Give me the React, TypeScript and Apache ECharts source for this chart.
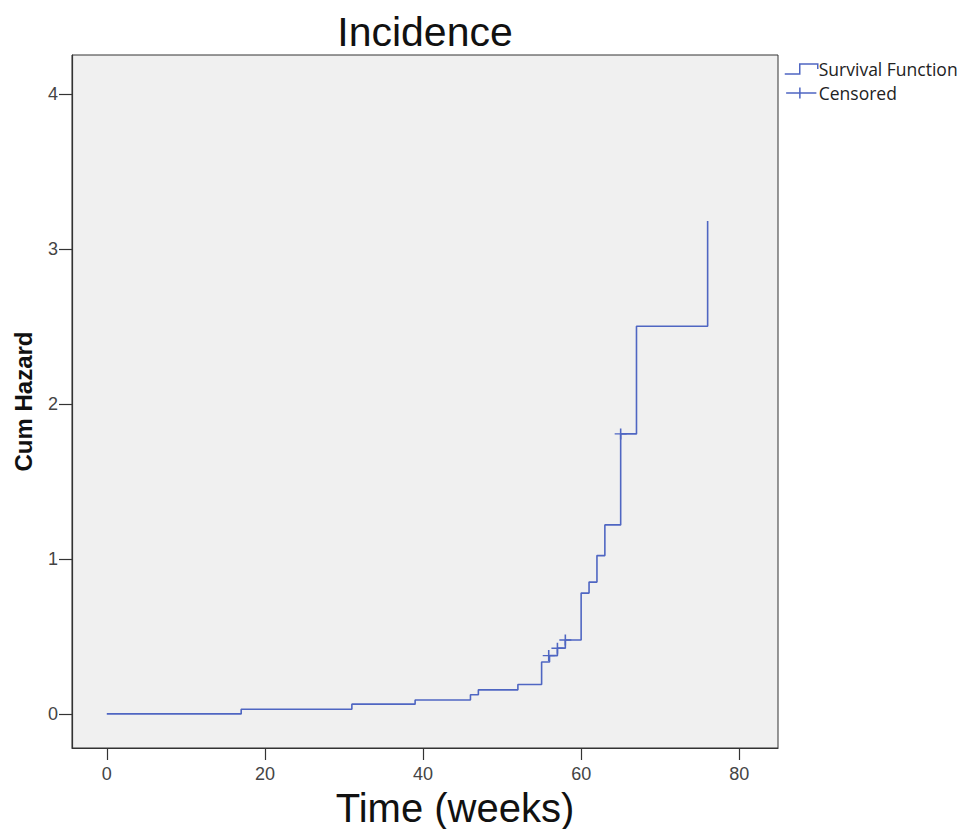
import React, { useEffect, useRef } from "react";
import * as echarts from "echarts";

const times = [0, 17, 31, 39, 46, 47, 52, 55, 56, 57, 58, 60, 61, 62, 63, 65, 67, 76];
const cumHazard = [0, 0.03, 0.063, 0.09, 0.123, 0.155, 0.19, 0.335, 0.376, 0.424, 0.477, 0.779, 0.85, 1.021, 1.219, 1.806, 2.5, 3.18];
const censoredTimes = [55.9, 57, 58, 65];
const censoredHazard = [0.376, 0.424, 0.477, 1.806];
const xTicks = [0, 20, 40, 60, 80];
const yTicks = [0, 1, 2, 3, 4];

const BLUE = "#4F66C2";
const FONT = "Liberation Sans, Arial, sans-serif";

export default function App() {
  const ref = useRef<HTMLDivElement>(null);
  useEffect(() => {
    if (!ref.current) return;
    const chart = echarts.init(ref.current, null, { renderer: "svg" });
    const stepData = times.map((t, i) => [t, cumHazard[i]]);
    const censData = censoredTimes.map((t, i) => [t, censoredHazard[i]]);
    chart.setOption({
      animation: false,
      backgroundColor: "#ffffff",
      title: {
        text: "Incidence",
        left: 420,
        top: 6,
        textAlign: "center",
        textStyle: { fontSize: 41, fontWeight: "normal", color: "#111", fontFamily: FONT },
      },
      legend: {
        orient: "vertical",
        left: 779,
        top: 54,
        itemWidth: 33,
        itemHeight: 11,
        itemGap: 4,
        textStyle: { fontSize: 17.5, lineHeight: 20, color: "#222", fontFamily: "Open Sans, sans-serif", padding: [0, 0, 0, -4] },
        data: [
          {
            name: "Survival Function",
            icon: "path://M0,11L15,11L15,1L33,1L33,6",
            itemStyle: { color: "transparent", borderColor: BLUE, borderWidth: 1.5 },
          },
          {
            name: "Censored",
            icon: "path://M0,6L33,6M15,0L15,12",
            itemStyle: { color: "transparent", borderColor: BLUE, borderWidth: 1.5 },
          },
        ],
      },
      grid: {
        left: 72,
        right: 188,
        top: 55,
        bottom: 81,
        outerBoundsMode: "none",
        containLabel: false,
        show: true,
        backgroundColor: "#F0F0F0",
        borderColor: "#333",
        borderWidth: 1,
      },
      xAxis: {
        type: "value",
        min: -4.4,
        max: 84.9,
        name: "Time (weeks)",
        nameLocation: "middle",
        nameGap: 33,
        nameTextStyle: { fontSize: 40, lineHeight: 40, color: "#111", fontFamily: FONT, padding: [0, 0, 0, 60] },
        axisLine: { show: true, onZero: false, lineStyle: { color: "#333", width: 1.2 } },
        axisTick: { show: true, length: 12, customValues: xTicks, lineStyle: { color: "#333", width: 1.2 } },
        axisLabel: { customValues: xTicks, margin: 17, fontSize: 18, color: "#444", fontFamily: FONT },
        splitLine: { show: false },
      },
      yAxis: {
        type: "value",
        min: -0.22,
        max: 4.25,
        name: "Cum Hazard",
        nameLocation: "middle",
        nameGap: 37,
        nameTextStyle: { fontSize: 24, fontWeight: "bold", color: "#111", fontFamily: FONT },
        axisLine: { show: true, onZero: false, lineStyle: { color: "#333", width: 1.2 } },
        axisTick: { show: true, length: 13, customValues: yTicks, lineStyle: { color: "#333", width: 1.2 } },
        axisLabel: { customValues: yTicks, margin: 14, fontSize: 18, color: "#444", fontFamily: FONT },
        splitLine: { show: false },
      },
      series: [
        {
          name: "Survival Function",
          type: "line",
          step: "end",
          data: stepData,
          showSymbol: false,
          symbol: "none",
          lineStyle: { color: BLUE, width: 1.6 },
          itemStyle: { color: BLUE },
        },
        {
          name: "Censored",
          type: "scatter",
          data: censData,
          symbol: "path://M0,5L10,5M5,0L5,10",
          symbolSize: [12, 11],
          itemStyle: { color: "transparent", borderColor: BLUE, borderWidth: 1.5, opacity: 1 },
        },
      ],
    });
    return () => chart.dispose();
  }, []);
  return <div ref={ref} style={{ position: "fixed", left: 0, top: 0, width: 966, height: 829 }} />;
}
